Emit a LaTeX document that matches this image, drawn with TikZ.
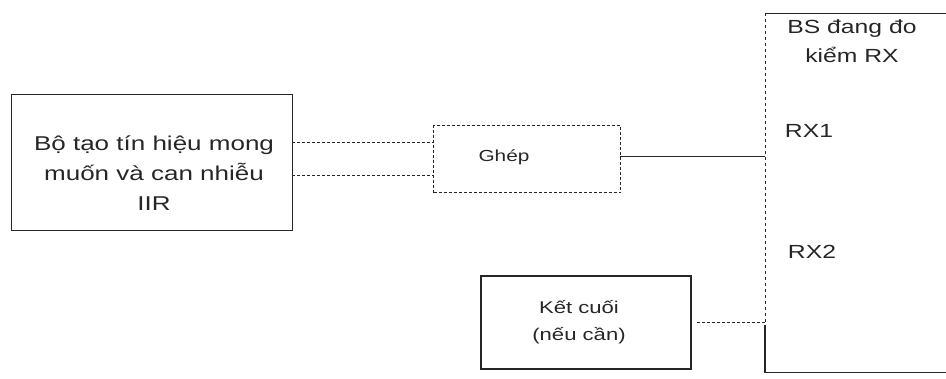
\documentclass[tikz,border=0pt]{standalone}
\usepackage{fontspec}
\setmainfont{Liberation Sans}[FakeStretch=1.3]
\begin{document}
\begin{tikzpicture}[x=1pt,y=-1pt,
  box/.style={draw=black!85,line width=1pt,inner sep=0pt,anchor=north west},
  dbox/.style={box,densely dashed},
  wire/.style={draw=black!85,line width=1pt},
  txt/.style={inner sep=0pt,align=center,text=black!85}]
\useasboundingbox (0,0) rectangle (946,378);
% boxes
\node[box,minimum width=281pt,minimum height=136pt] (gen) at (11,94) {};
\node[dbox,minimum width=187pt,minimum height=67pt] (ghep) at (433,125) {};
\node[box,line width=1.6pt,minimum width=210pt,minimum height=93pt] (ket) at (480,275) {};
\node[inner sep=0pt,anchor=north west,minimum width=181pt,minimum height=359pt] (bs) at (765,13) {};
\draw[wire] (bs.north east) -- (bs.north west);
\draw[wire,dashed] (bs.north west) -- ([yshift=-312pt]bs.north west);
\draw[wire,line width=1.6pt] ([yshift=-312pt]bs.north west) -- (bs.south west) -- (bs.south east);
% texts
\node[txt,font=\fontsize{20}{30}\selectfont] (gentxt) at (154,173)
  {Bộ tạo tín hiệu mong\\muốn và can nhiễu\\IIR};
\node[txt,font=\fontsize{16}{20}\selectfont] (gheptxt) at (504,157) {Ghép};
\node[txt,font=\fontsize{17}{27}\selectfont] (kettxt) at (579,322) {Kết cuối\\(nếu cần)};
\node[txt,font=\fontsize{19}{29}\selectfont] (bstxt) at (852,41) {BS đang đo\\kiểm RX};
\node[txt,font=\fontsize{19}{22}\selectfont] (rx1) at (809,131) {RX1};
\node[txt,font=\fontsize{19}{22}\selectfont] (rx2) at (812,252) {RX2};
% connectors
\coordinate (g1) at (292,142);
\coordinate (g2) at (292,175);
\draw[wire,densely dashed] (g1) -- (ghep.west |- g1);
\draw[wire,densely dashed] (g2) -- (ghep.west |- g2);
\coordinate (c1) at (620,156);
\draw[wire] (c1) -- (bs.west |- c1);
\coordinate (k1) at (697,322);
\draw[wire,densely dashed] (k1) -- (bs.west |- k1);
\end{tikzpicture}
\end{document}
